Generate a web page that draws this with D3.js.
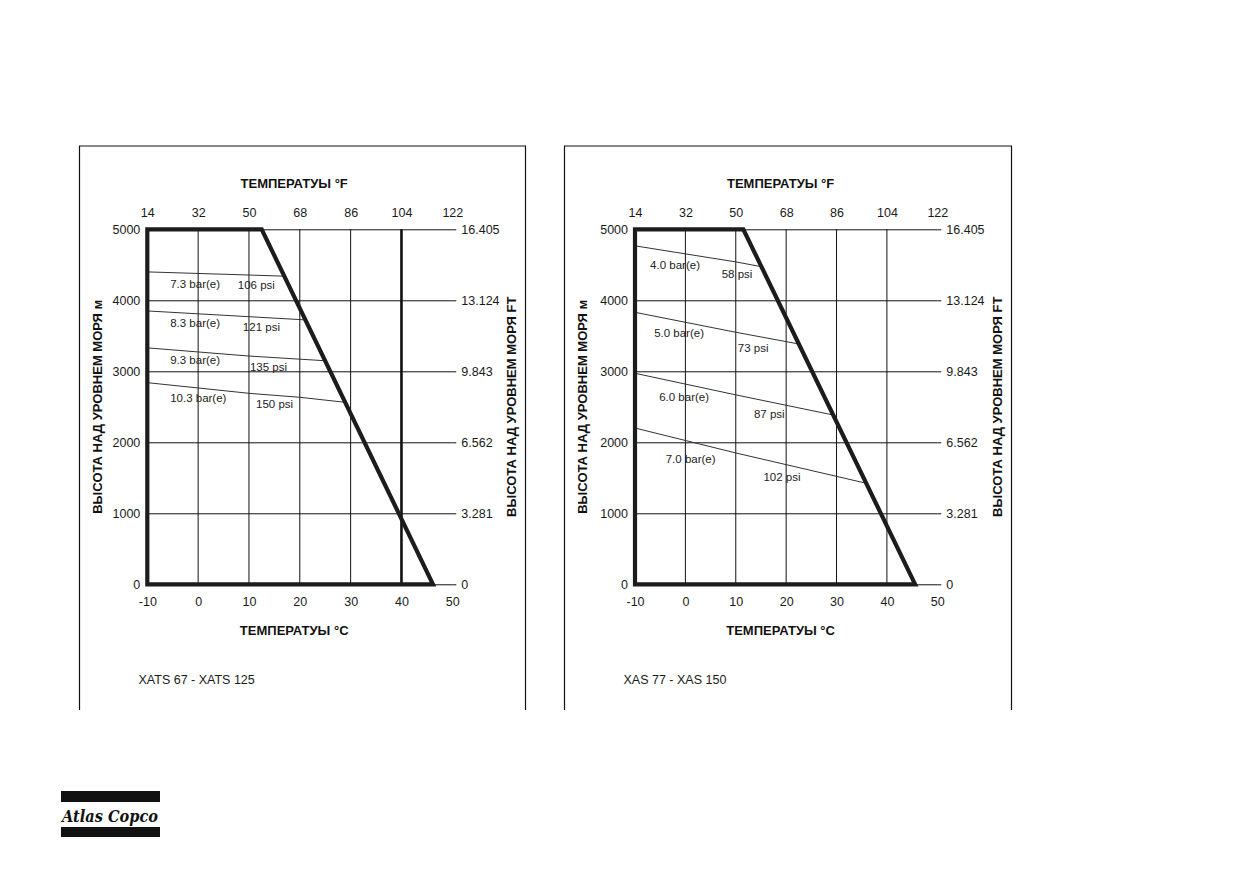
<!doctype html>
<html lang="ru">
<head>
  <meta charset="utf-8">
  <title>Высота над уровнем моря / температура</title>
  <script src="https://d3js.org/d3.v7.min.js"></script>
  <style>
  body { margin: 0; background: #fff; }
  svg { display: block; font-family: "Liberation Sans", Arial, sans-serif; }
  .tick text { font-size: 12.5px; fill: #1a1a1a; }
  .axtitle { font-size: 13px; font-weight: bold; fill: #111; }
  .plabel { font-size: 11.5px; fill: #222; }
  .foot { font-size: 12.5px; fill: #1a1a1a; }
  </style>
</head>
<body>
<script>
  // shared axes
  var cTicks = [-10, 0, 10, 20, 30, 40, 50];
  var fTicks = [14, 32, 50, 68, 86, 104, 122];
  var mTicks = [0, 1000, 2000, 3000, 4000, 5000];
  var ftTicks = ["0", "3.281", "6.562", "9.843", "13.124", "16.405"];
  var gridC = [0, 10, 20, 30, 40];

  // XATS 67 - XATS 125
  var xatsEnvelope = [[-10, 0], [-10, 5000], [12.5, 5000], [46.2, 0]];
  var xatsBar = ["7.3 bar(e)", "8.3 bar(e)", "9.3 bar(e)", "10.3 bar(e)"];
  var xatsPsi = ["106 psi", "121 psi", "135 psi", "150 psi"];
  var xatsLines = [
    [[-10, 4400], [10, 4356], [16.9, 4340]],
    [[-10, 3850], [10, 3769], [20.9, 3725]],
    [[-10, 3330], [10, 3215], [24.7, 3150]],
    [[-10, 2840], [10, 2690], [20, 2634], [28.7, 2565]]
  ];
  var xatsBarAt = [[-5.5, 4229], [-5.5, 3685], [-5.5, 3159], [-5.5, 2624]];
  var xatsPsiAt = [[7.8, 4215], [8.8, 3624], [10.2, 3065], [11.4, 2539]];

  // XAS 77 - XAS 150
  var xasEnvelope = [[-10, 0], [-10, 5000], [11.5, 5000], [45.6, 0]];
  var xasBar = ["4.0 bar(e)", "5.0 bar(e)", "6.0 bar(e)", "7.0 bar(e)"];
  var xasPsi = ["58 psi", "73 psi", "87 psi", "102 psi"];
  var xasLines = [
    [[-10, 4767], [0, 4654], [10, 4541], [15.1, 4473]],
    [[-10, 3831], [10, 3550], [22.5, 3385]],
    [[-10, 2972], [10, 2668], [29.3, 2385]],
    [[-10, 2201], [10, 1850], [35.9, 1423]]
  ];
  var xasBarAt = [[-7.0, 4493], [-6.2, 3535], [-5.2, 2642], [-3.9, 1769]];
  var xasPsiAt = [[7.2, 4366], [10.4, 3324], [13.6, 2399], [15.5, 1515]];

  var svg = d3.select("body").append("svg")
      .attr("width", 1241)
      .attr("height", 872);

  function plain(d) { return String(d); }

  function drawPanel(p) {
    var g = svg.append("g");

    // frame (open at the bottom)
    g.append("path")
      .attr("d", "M" + p.frame[0] + "," + p.frame[3] + "V" + p.frame[1] + "H" + p.frame[2] + "V" + p.frame[3])
      .attr("fill", "none").attr("stroke", "#111").attr("stroke-width", 1.2);

    var x = d3.scaleLinear().domain([-10, 50]).range(p.xr);
    var y = d3.scaleLinear().domain([0, 5000]).range([584.3, 229.3]);
    var w = p.xr[1] - p.xr[0];

    // left axis + horizontal grid
    var ax = g.append("g")
      .attr("transform", "translate(" + x(-10) + ",0)")
      .call(d3.axisLeft(y).tickValues(mTicks).tickSize(-w).tickPadding(7).tickFormat(plain));
    ax.select(".domain").remove();
    ax.selectAll(".tick line").attr("stroke", "#111");

    // right axis in feet
    var axr = g.append("g")
      .attr("transform", "translate(" + x(50) + ",0)")
      .call(d3.axisRight(y).tickValues(mTicks).tickSize(4).tickPadding(5)
        .tickFormat(function(d, i) { return ftTicks[i]; }));
    axr.select(".domain").remove();
    axr.selectAll(".tick line").attr("stroke", "#111");

    // bottom axis in °C
    var axb = g.append("g")
      .attr("transform", "translate(0," + y(0) + ")")
      .call(d3.axisBottom(x).tickValues(cTicks).tickSize(0).tickPadding(13).tickFormat(plain));
    axb.select(".domain").remove();

    // top axis in °F
    var axt = g.append("g")
      .attr("transform", "translate(0," + y(5000) + ")")
      .call(d3.axisTop(x).tickValues(cTicks).tickSize(0).tickPadding(12)
        .tickFormat(function(d, i) { return fTicks[i]; }));
    axt.select(".domain").remove();

    // vertical grid
    g.selectAll(".vgrid").data(gridC).enter().append("line")
      .attr("x1", function(d) { return x(d); })
      .attr("x2", function(d) { return x(d); })
      .attr("y1", y(0)).attr("y2", y(5000))
      .attr("stroke", "#111")
      .attr("stroke-width", function(d) { return d === p.thick ? 2.6 : 1; });

    // pressure lines
    var line = d3.line().x(function(d) { return x(d[0]); }).y(function(d) { return y(d[1]); });
    g.selectAll(".pline").data(p.lines).enter().append("path")
      .attr("d", line)
      .attr("fill", "none").attr("stroke", "#333").attr("stroke-width", 1);

    g.selectAll(".blabel").data(p.bar).enter().append("text")
      .attr("class", "plabel")
      .attr("x", function(d, i) { return x(p.barAt[i][0]); })
      .attr("y", function(d, i) { return y(p.barAt[i][1]); })
      .attr("dominant-baseline", "central")
      .text(function(d) { return d; });
    g.selectAll(".slabel").data(p.psi).enter().append("text")
      .attr("class", "plabel")
      .attr("x", function(d, i) { return x(p.psiAt[i][0]); })
      .attr("y", function(d, i) { return y(p.psiAt[i][1]); })
      .attr("dominant-baseline", "central")
      .text(function(d) { return d; });

    // operating envelope
    g.append("path")
      .attr("d", line(p.envelope) + "Z")
      .attr("fill", "none").attr("stroke", "#1c1c1c")
      .attr("stroke-width", 4.2).attr("stroke-linejoin", "miter");

    // titles
    g.append("text").attr("class", "axtitle")
      .attr("x", x(18.9)).attr("y", 188).attr("text-anchor", "middle")
      .text("ТЕМПЕРАТУЫ °F");
    g.append("text").attr("class", "axtitle")
      .attr("x", x(18.9)).attr("y", 635).attr("text-anchor", "middle")
      .text("ТЕМПЕРАТУЫ °C");
    g.append("text").attr("class", "axtitle")
      .attr("transform", "translate(" + (p.frame[0] + 22.5) + "," + y(2500) + ") rotate(-90)")
      .attr("text-anchor", "middle")
      .text("ВЫСОТА НАД УРОВНЕМ МОРЯ м");
    g.append("text").attr("class", "axtitle")
      .attr("transform", "translate(" + (p.frame[2] - 9.5) + "," + y(2500) + ") rotate(-90)")
      .attr("text-anchor", "middle")
      .text("ВЫСОТА НАД УРОВНЕМ МОРЯ FT");

    g.append("text").attr("class", "foot")
      .attr("x", p.frame[0] + 59).attr("y", 683.5)
      .text(p.name);
  }

  drawPanel({ frame: [79.5, 146, 525.5, 710], xr: [147.3, 452.3], thick: 40,
    envelope: xatsEnvelope, lines: xatsLines, bar: xatsBar, psi: xatsPsi,
    barAt: xatsBarAt, psiAt: xatsPsiAt, name: "XATS 67 - XATS 125" });

  drawPanel({ frame: [564.5, 146, 1011.5, 710], xr: [635, 937.3], thick: null,
    envelope: xasEnvelope, lines: xasLines, bar: xasBar, psi: xasPsi,
    barAt: xasBarAt, psiAt: xasPsiAt, name: "XAS 77 - XAS 150" });

  // Atlas Copco logo
  var logo = svg.append("g");
  logo.append("rect").attr("x", 61).attr("y", 791).attr("width", 99).attr("height", 11).attr("fill", "#111");
  logo.append("rect").attr("x", 61).attr("y", 827).attr("width", 99).attr("height", 10).attr("fill", "#111");
  logo.append("text")
    .attr("x", 62).attr("y", 822)
    .attr("textLength", 96).attr("lengthAdjust", "spacingAndGlyphs")
    .style("font-family", "'DejaVu Serif', 'Liberation Serif', serif")
    .style("font-style", "italic").style("font-weight", "bold")
    .style("font-size", "17px").attr("fill", "#111")
    .text("Atlas Copco");
</script>
</body>
</html>
